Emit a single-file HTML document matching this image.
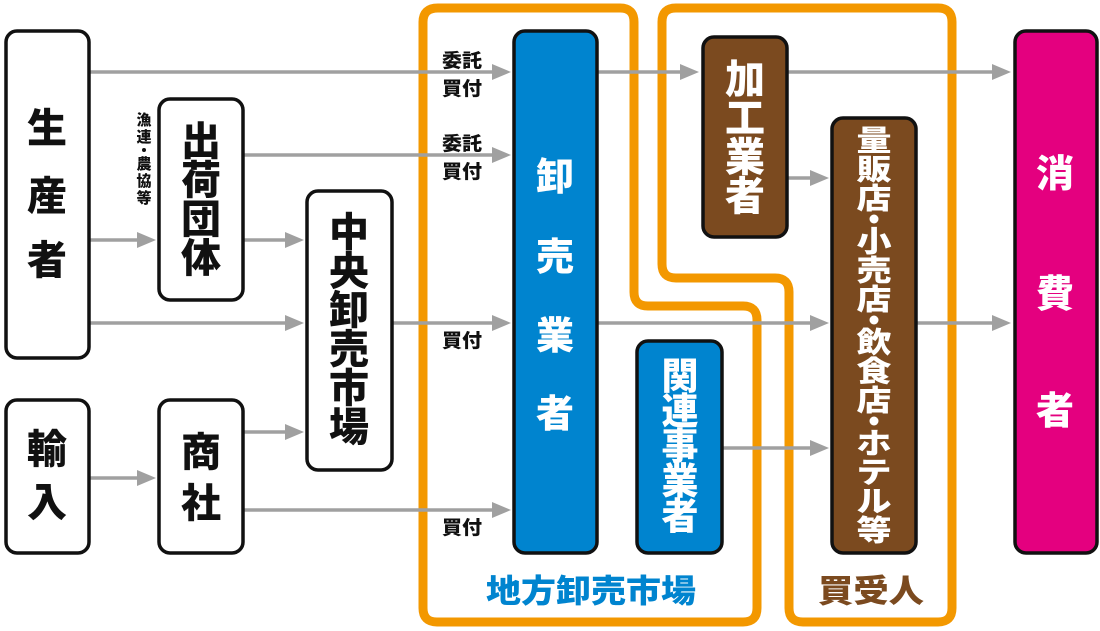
<!DOCTYPE html>
<html><head><meta charset="utf-8"><style>
html,body{margin:0;padding:0;background:#fff;}
svg{display:block;}
text{font-family:"Liberation Sans","Noto Sans CJK JP",sans-serif;font-weight:900;}
</style></head><body>
<svg width="1100" height="631" viewBox="0 0 1100 631" xmlns="http://www.w3.org/2000/svg">
<path d="M438 8 H620 Q634 8 634 22 V292 Q634 306 648 306 H743 Q757 306 757 320 V608 Q757 622 743 622 H437 Q423 622 423 608 V22 Q423 8 438 8 Z" fill="none" stroke="#F39800" stroke-width="9"/>
<path d="M676 8 H938 Q952 8 952 22 V608 Q952 622 938 622 H803 Q789 622 789 608 V292 Q789 278 775 278 H676 Q662 278 662 264 V22 Q662 8 676 8 Z" fill="none" stroke="#F39800" stroke-width="9"/>

<g stroke="#A0A0A0" stroke-width="3.5" fill="none">
<line x1="89" y1="72" x2="495" y2="72"/>
<line x1="597" y1="72" x2="683" y2="72"/>
<line x1="787" y1="72" x2="995" y2="72"/>
<line x1="243" y1="155" x2="495" y2="155"/>
<line x1="89" y1="240" x2="140" y2="240"/>
<line x1="243" y1="240" x2="288" y2="240"/>
<line x1="89" y1="323" x2="288" y2="323"/>
<line x1="392" y1="323" x2="495" y2="323"/>
<line x1="597" y1="323" x2="813" y2="323"/>
<line x1="917" y1="323" x2="995" y2="323"/>
<line x1="787" y1="178" x2="813" y2="178"/>
<line x1="243" y1="432" x2="288" y2="432"/>
<line x1="89" y1="478" x2="140" y2="478"/>
<line x1="243" y1="510" x2="495" y2="510"/>
<line x1="722" y1="448" x2="813" y2="448"/>
</g>
<g fill="#A0A0A0">
<polygon points="511,72 492,64 492,80"/>
<polygon points="699,72 680,64 680,80"/>
<polygon points="1011,72 992,64 992,80"/>
<polygon points="511,155 492,147 492,163"/>
<polygon points="156,240 137,232 137,248"/>
<polygon points="304,240 285,232 285,248"/>
<polygon points="304,323 285,315 285,331"/>
<polygon points="511,323 492,315 492,331"/>
<polygon points="829,323 810,315 810,331"/>
<polygon points="1011,323 992,315 992,331"/>
<polygon points="829,178 810,170 810,186"/>
<polygon points="304,432 285,424 285,440"/>
<polygon points="156,478 137,470 137,486"/>
<polygon points="511,510 492,502 492,518"/>
<polygon points="829,448 810,440 810,456"/>
</g>

<g stroke="#111" stroke-width="3.5">
<rect x="6" y="31" width="83" height="327" rx="11" fill="#fff"/>
<rect x="6" y="400" width="83" height="153" rx="11" fill="#fff"/>
<rect x="159" y="99" width="84" height="201" rx="11" fill="#fff"/>
<rect x="159" y="400" width="84" height="153" rx="11" fill="#fff"/>
<rect x="307" y="191" width="85" height="279" rx="11" fill="#fff"/>
<rect x="514" y="31" width="83" height="522" rx="11" fill="#0084CF"/>
<rect x="637" y="341" width="85" height="212" rx="11" fill="#0084CF"/>
<rect x="703" y="37" width="84" height="200" rx="11" fill="#7B4A1F"/>
<rect x="832" y="118" width="84" height="435" rx="11" fill="#7B4A1F"/>
<rect x="1015" y="31" width="82" height="522" rx="11" fill="#E4007F"/>
</g>

<g fill="#111" text-anchor="middle" font-size="40">
<text x="47" y="142">生</text>
<text x="47" y="210">産</text>
<text x="47" y="274">者</text>
<text x="47" y="463">輸</text>
<text x="47" y="516">入</text>
<text x="201" y="155">出</text>
<text x="201" y="194">荷</text>
<text x="201" y="233">団</text>
<text x="201" y="272">体</text>
<text x="201" y="466">商</text>
<text x="201" y="517">社</text>
<text x="349" y="246">中</text>
<text x="349" y="285">央</text>
<text x="349" y="324">卸</text>
<text x="349" y="363">売</text>
<text x="349" y="402">市</text>
<text x="349" y="441">場</text>
</g>
<g fill="#fff" text-anchor="middle">
<g font-size="38">
<text x="555" y="190">卸</text>
<text x="555" y="270">売</text>
<text x="555" y="349">業</text>
<text x="555" y="427">者</text>
<text x="1055" y="187">消</text>
<text x="1055" y="307">費</text>
<text x="1055" y="424">者</text>
</g>
<g font-size="40">
<text x="745" y="93">加</text>
<text x="745" y="132">工</text>
<text x="745" y="171">業</text>
<text x="745" y="210">者</text>
</g>
<g font-size="37">
<text x="680" y="389">関</text>
<text x="680" y="424">連</text>
<text x="680" y="459">事</text>
<text x="680" y="494">業</text>
<text x="680" y="529">者</text>
</g>
<g font-size="35">
<g transform="translate(874,125) scale(1,0.83)"><text y="31">量</text></g>
<g transform="translate(874,154) scale(1,0.83)"><text y="31">販</text></g>
<g transform="translate(874,183) scale(1,0.83)"><text y="31">店</text></g>
<circle cx="874" cy="219" r="4.5"/>
<g transform="translate(874,226) scale(1,0.83)"><text y="31">小</text></g>
<g transform="translate(874,255) scale(1,0.83)"><text y="31">売</text></g>
<g transform="translate(874,284) scale(1,0.83)"><text y="31">店</text></g>
<circle cx="874" cy="320" r="4.5"/>
<g transform="translate(874,327) scale(1,0.83)"><text y="31">飲</text></g>
<g transform="translate(874,356) scale(1,0.83)"><text y="31">食</text></g>
<g transform="translate(874,385) scale(1,0.83)"><text y="31">店</text></g>
<circle cx="874" cy="421" r="4.5"/>
<g transform="translate(874,428) scale(1,0.83)"><text y="31">ホ</text></g>
<g transform="translate(874,457) scale(1,0.83)"><text y="31">テ</text></g>
<g transform="translate(874,486) scale(1,0.83)"><text y="31">ル</text></g>
<g transform="translate(874,515) scale(1,0.83)"><text y="31">等</text></g>
</g>
</g>

<g fill="#111" font-size="19">
<text x="442" y="67" textLength="40" lengthAdjust="spacingAndGlyphs">委託</text>
<text x="442" y="95" textLength="40" lengthAdjust="spacingAndGlyphs">買付</text>
<text x="442" y="150" textLength="40" lengthAdjust="spacingAndGlyphs">委託</text>
<text x="442" y="178" textLength="40" lengthAdjust="spacingAndGlyphs">買付</text>
<text x="442" y="347" textLength="40" lengthAdjust="spacingAndGlyphs">買付</text>
<text x="442" y="534" textLength="40" lengthAdjust="spacingAndGlyphs">買付</text>
</g>
<g fill="#111" font-size="15" font-weight="700" text-anchor="middle">
<text x="144" y="125">漁</text>
<text x="144" y="142">連</text>
<circle cx="144" cy="150" r="2"/>
<text x="144" y="169">農</text>
<text x="144" y="186">協</text>
<text x="144" y="203">等</text>
</g>

<text x="486" y="602" font-size="32" fill="#0084CF" textLength="210" lengthAdjust="spacingAndGlyphs">地方卸売市場</text>
<text x="818" y="602" font-size="32" fill="#7B4A1F" textLength="106" lengthAdjust="spacingAndGlyphs">買受人</text>
</svg>
</body></html>
